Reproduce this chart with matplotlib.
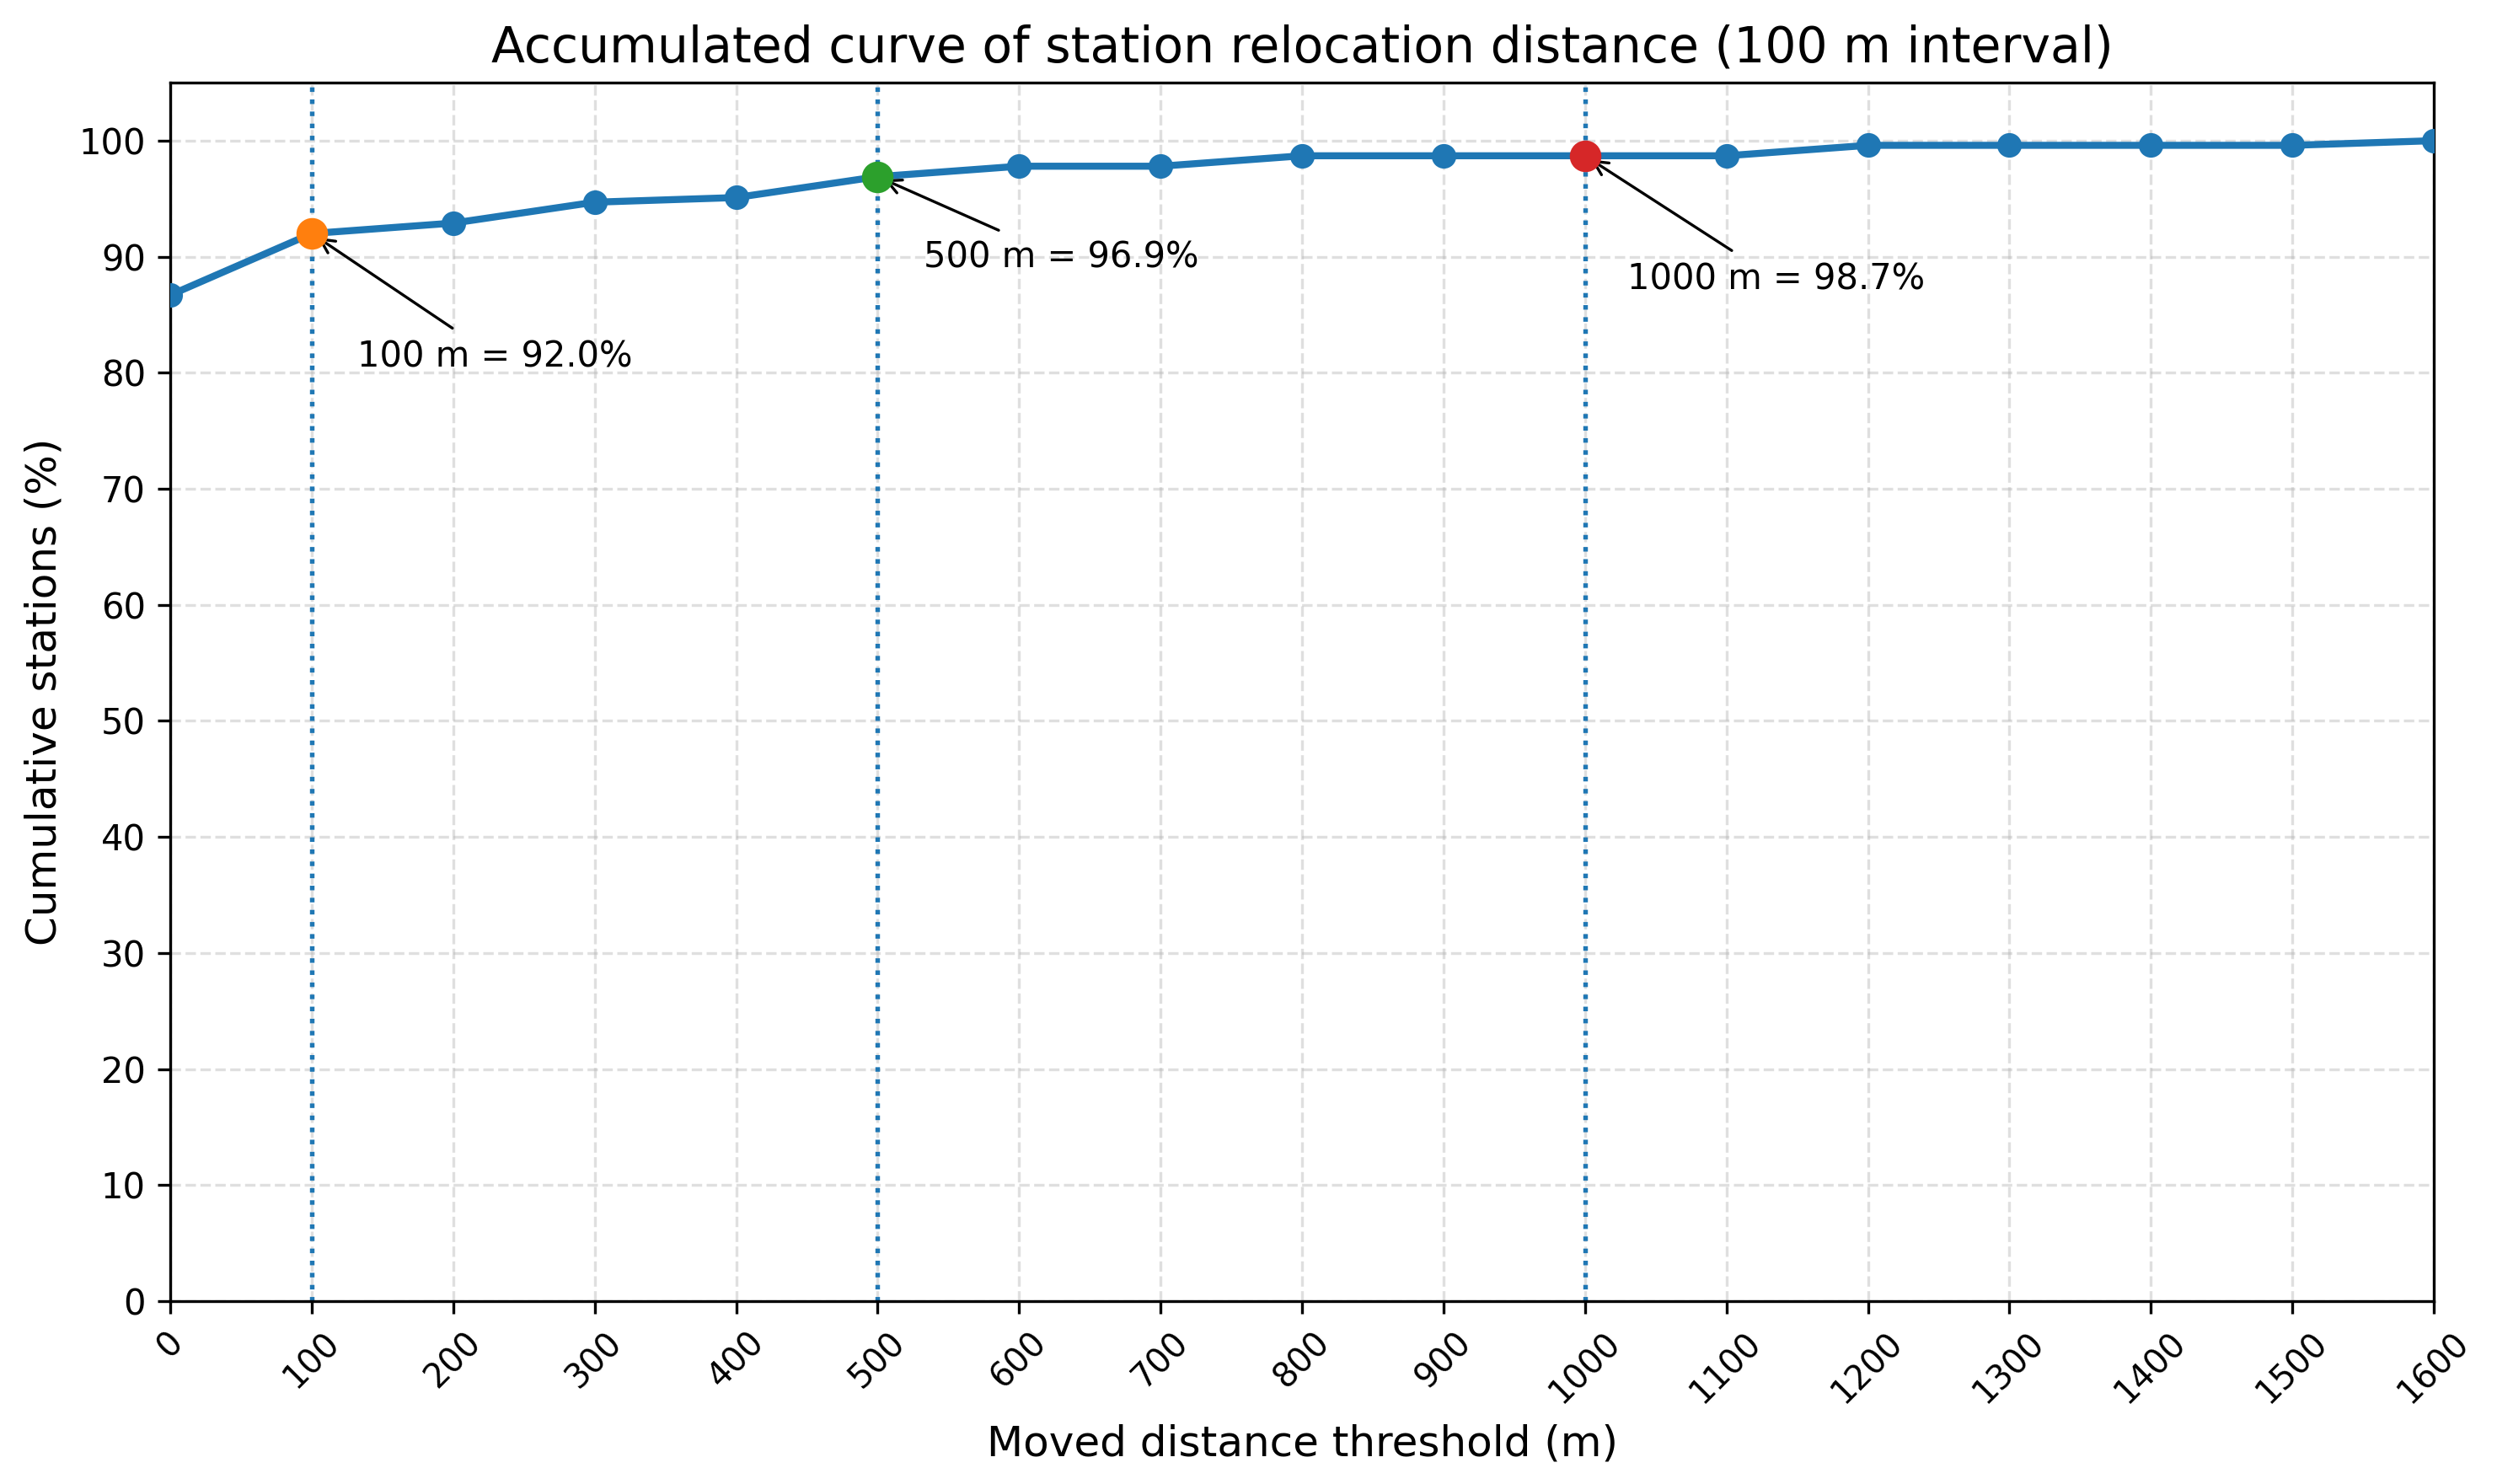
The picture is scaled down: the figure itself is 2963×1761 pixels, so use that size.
import matplotlib
matplotlib.use("Agg")
import matplotlib.pyplot as plt

# cumulative share of stations moved less than each threshold
thresholds = [0, 100, 200, 300, 400, 500, 600, 700, 800, 900,
              1000, 1100, 1200, 1300, 1400, 1500, 1600]
cum_pct = [86.7, 92.0, 92.9, 94.7, 95.1, 96.9, 97.8, 97.8, 98.7, 98.7,
           98.7, 98.7, 99.6, 99.6, 99.6, 99.6, 100.0]

marks = [100, 500, 1000]
mark_colors = ['C1', 'C2', 'C3']
label_offsets = [(13, -38), (13, -26), (12, -38)]

fig, ax = plt.subplots(figsize=(2963 / 300, 1761 / 300), dpi=300)
fig.subplots_adjust(left=0.0682, right=0.9747, bottom=0.1232, top=0.9443)

ax.plot(thresholds, cum_pct, marker='o', color='C0', lw=2, ms=6, zorder=3)

for m, c, off in zip(marks, mark_colors, label_offsets):
    v = cum_pct[thresholds.index(m)]
    ax.axvline(m, linestyle=':', color='C0', lw=1.3, zorder=2)
    ax.plot([m], [v], 'o', color=c, ms=8, zorder=4)
    ax.annotate(f"{m} m = {v:.1f}%", xy=(m, v), xytext=off,
                textcoords='offset points', fontsize=10, ha='left',
                arrowprops=dict(arrowstyle='->', color='black', lw=0.8))

ax.set_xlim(0, 1600)
ax.set_ylim(0, 105)
ax.set_xticks(thresholds)
ax.set_yticks(range(0, 101, 10))
plt.xticks(rotation=45, fontsize=9.5)
ax.tick_params(axis='y', labelsize=10)

ax.set_title("Accumulated curve of station relocation distance (100 m interval)", fontsize=14)
ax.set_xlabel("Moved distance threshold (m)", fontsize=12)
ax.set_ylabel("Cumulative stations (%)", fontsize=12)
ax.grid(True, linestyle='--', alpha=0.4)

plt.savefig("out.png", dpi=300)
plt.close()
